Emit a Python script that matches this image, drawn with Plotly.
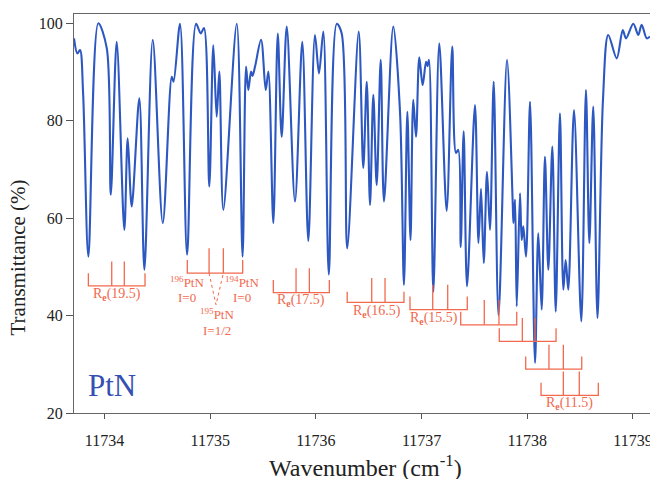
import plotly.graph_objects as go

# ---- spectrum (turning points) ----
wavenumber = [
    11733.711, 11733.743, 11733.768, 11733.797, 11733.847, 11733.941, 11734.021, 11734.059,
    11734.115, 11734.187, 11734.219, 11734.257, 11734.329, 11734.377, 11734.456, 11734.551,
    11734.636, 11734.653, 11734.714, 11734.781, 11734.866, 11734.910, 11734.941, 11734.991,
    11735.029, 11735.061, 11735.086, 11735.124, 11735.251, 11735.306, 11735.339, 11735.360,
    11735.386, 11735.400, 11735.424, 11735.481, 11735.525, 11735.550, 11735.597, 11735.639,
    11735.676, 11735.724, 11735.802, 11735.871, 11735.928, 11735.991, 11736.029, 11736.070,
    11736.122, 11736.197, 11736.244, 11736.296, 11736.405, 11736.448, 11736.481, 11736.512,
    11736.543, 11736.575, 11736.613, 11736.644, 11736.732, 11736.796, 11736.833, 11736.865,
    11736.895, 11736.921, 11736.947, 11736.978, 11737.010, 11737.042, 11737.056, 11737.070,
    11737.111, 11737.167, 11737.237, 11737.290, 11737.325, 11737.347, 11737.370, 11737.398,
    11737.430, 11737.505, 11737.538, 11737.562, 11737.588, 11737.619, 11737.647, 11737.682,
    11737.728, 11737.808, 11737.862, 11737.869, 11737.884, 11737.900, 11737.931, 11737.947,
    11737.962, 11737.988, 11738.026, 11738.073, 11738.104, 11738.136, 11738.167, 11738.199,
    11738.237, 11738.269, 11738.309, 11738.341, 11738.363, 11738.388, 11738.442, 11738.511,
    11738.555, 11738.587, 11738.624, 11738.664, 11738.716, 11738.766, 11738.846, 11738.903,
    11738.934, 11739.003, 11739.050, 11739.082, 11739.130, 11739.161,
]
transmittance = [
    96.9, 93.8, 94.5, 85.7, 52.1, 100.0, 94.9, 64.8,
    96.2, 57.6, 76.4, 62.4, 84.6, 49.4, 96.6, 59.0,
    89.0, 88.0, 99.9, 52.5, 99.9, 97.9, 99.0, 66.5,
    95.5, 80.8, 90.1, 61.7, 99.9, 52.1, 91.1, 86.3,
    90.1, 89.2, 91.1, 96.6, 86.3, 90.1, 59.0, 97.9,
    76.7, 99.3, 63.4, 96.2, 55.3, 97.6, 89.7, 98.3,
    48.4, 99.9, 97.9, 53.8, 98.3, 70.3, 88.0, 62.7,
    85.3, 66.8, 92.5, 63.4, 99.3, 81.6, 46.3, 81.8,
    55.5, 84.3, 76.7, 93.0, 87.3, 92.1, 91.2, 92.5,
    44.9, 95.9, 61.5, 95.2, 73.4, 74.0, 54.1, 77.8,
    46.0, 83.2, 54.9, 66.0, 50.8, 69.5, 57.6, 88.0,
    40.0, 92.5, 63.1, 59.0, 63.8, 41.9, 65.1, 55.5,
    58.3, 52.1, 83.9, 30.3, 56.9, 41.2, 72.6, 49.4,
    74.7, 40.8, 81.5, 45.3, 51.4, 45.3, 82.2, 38.8,
    86.3, 54.9, 82.9, 39.5, 84.3, 97.6, 92.8, 98.6,
    96.9, 99.9, 97.6, 99.7, 96.9, 97.3,
]

# ---- R-branch line-assignment brackets ----
bracket_labels = ["19.5", "", "17.5", "16.5", "15.5", "", "", "", "11.5"]
left_end  = [11733.847, 11734.783, 11735.597, 11736.296, 11736.890, 11737.370, 11737.735, 11737.985, 11738.130]
mid_one   = [11734.068, 11734.989, 11735.812, 11736.528, 11737.105, 11737.593, 11737.953, 11738.205, 11738.341]
mid_two   = [11734.187, 11735.124, 11735.938, 11736.654, 11737.247, 11737.732, 11738.073, 11738.341, 11738.492]
right_end = [11734.383, 11735.307, 11736.127, 11736.833, 11737.432, 11737.900, 11738.272, 11738.515, 11738.672]
base_y    = [46.1, 48.7, 44.7, 42.7, 41.2, 38.1, 34.7, 29.0, 23.6]
end_top_y = [48.7, 51.4, 47.3, 44.9, 43.9, 40.8, 37.4, 31.6, 26.2]
mid_top_y = [51.1, 53.8, 49.7, 47.7, 46.3, 43.2, 39.5, 34.0, 28.5]
label_x   = [11734.115, None, 11735.862, 11736.575, 11737.117, None, None, None, 11738.404]
label_y   = [44.3, None, 43.1, 40.8, 39.5, None, None, None, 22.05]

x_ticks = [11734, 11735, 11736, 11737, 11738, 11739]
y_ticks = [20, 40, 60, 80, 100]

BLUE = "#2d58c2"
RED = "#f2694e"
SERIF = "Liberation Serif, Times New Roman, serif"

fig = go.Figure()

fig.add_trace(go.Scatter(
    x=wavenumber, y=transmittance, mode="lines",
    line=dict(color=BLUE, width=2.1, shape="spline", smoothing=0.9),
    hoverinfo="skip", showlegend=False,
))

bx, by = [], []
for i in range(len(left_end)):
    bx += [left_end[i], left_end[i], right_end[i], right_end[i], None]
    by += [end_top_y[i], base_y[i], base_y[i], end_top_y[i], None]
    bx += [mid_one[i], mid_one[i], None, mid_two[i], mid_two[i], None]
    by += [base_y[i], mid_top_y[i], None, base_y[i], mid_top_y[i], None]
fig.add_trace(go.Scatter(
    x=bx, y=by, mode="lines", line=dict(color=RED, width=1.3),
    hoverinfo="skip", showlegend=False,
))

# dotted lines joining the 195PtN pair to its label
fig.add_trace(go.Scatter(
    x=[mid_one[1], 11735.055, mid_two[1]], y=[base_y[1], 42.2, base_y[1]],
    mode="lines", line=dict(color=RED, width=1, dash="dot"),
    hoverinfo="skip", showlegend=False,
))

annotations = []
for i, lab in enumerate(bracket_labels):
    if lab:
        annotations.append(dict(
            x=label_x[i], y=label_y[i], xref="x", yref="y",
            text="R<sub><b>e</b></sub>(" + lab + ")", showarrow=False,
            xanchor="center", yanchor="middle",
            font=dict(family=SERIF, size=14, color=RED),
        ))

iso_text = ["<sup>196</sup>PtN", "I=0", "<sup>194</sup>PtN", "I=0", "<sup>195</sup>PtN", "I=1/2"]
iso_x = [11734.778, 11734.778, 11735.298, 11735.298, 11735.061, 11735.061]
iso_y = [46.9, 43.7, 46.9, 43.7, 40.3, 37.0]
for t, xx, yy in zip(iso_text, iso_x, iso_y):
    annotations.append(dict(
        x=xx, y=yy, xref="x", yref="y", text=t, showarrow=False,
        xanchor="center", yanchor="middle",
        font=dict(family=SERIF, size=13, color=RED),
    ))

annotations.append(dict(
    x=11734.07, y=25.6, xref="x", yref="y", text="PtN", showarrow=False,
    xanchor="center", yanchor="middle",
    font=dict(family=SERIF, size=31, color="#3550b2"),
))
annotations.append(dict(
    x=-0.097, y=0.39, xref="paper", yref="paper", text="Transmittance (%)",
    showarrow=False, textangle=-90, xanchor="center", yanchor="middle",
    font=dict(family=SERIF, size=21, color="#222"),
))
annotations.append(dict(
    x=0.506, y=-0.132, xref="paper", yref="paper",
    text="Wavenumber (cm<sup>-1</sup>)", showarrow=False,
    xanchor="center", yanchor="middle",
    font=dict(family=SERIF, size=24, color="#222"),
))

fig.update_layout(
    width=650, height=479,
    margin=dict(l=74, r=0, t=14, b=66, autoexpand=False),
    paper_bgcolor="white", plot_bgcolor="white",
    annotations=annotations,
    xaxis=dict(
        range=[11733.711, 11739.161], tickvals=x_ticks,
        ticktext=[str(v) for v in x_ticks],
        ticks="outside", ticklen=5, tickcolor="#555",
        showline=True, linecolor="#666", linewidth=1.2, mirror=True,
        showgrid=False, zeroline=False, ticklabeloverflow="allow",
        ticklabelstandoff=8, automargin=False,
        tickfont=dict(family=SERIF, size=16, color="#222"),
    ),
    yaxis=dict(
        range=[20, 101.9], tickvals=y_ticks,
        ticks="outside", ticklen=7, tickcolor="#555",
        showline=True, linecolor="#666", linewidth=1.2, mirror=False,
        showgrid=False, zeroline=False, automargin=False,
        tickfont=dict(family=SERIF, size=16, color="#222"),
    ),
)

fig.write_html("out.html", config={"displayModeBar": False},
               post_script="document.body.style.margin='0';")
